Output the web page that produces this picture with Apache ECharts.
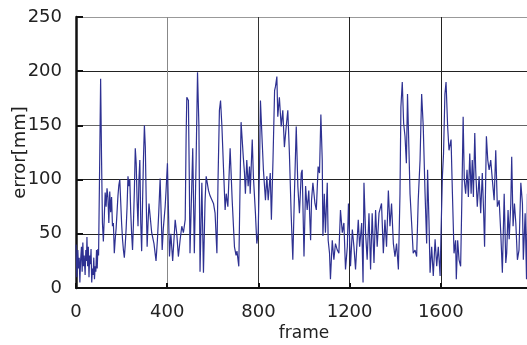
<!DOCTYPE html>
<html>
<head>
<meta charset="utf-8">
<script src="https://cdn.jsdelivr.net/npm/echarts@6/dist/echarts.min.js"></script>
<style>
  html, body { margin: 0; padding: 0; background: #fff; }
  #main { width: 527px; height: 345px; }
</style>
</head>
<body>
<div id="main"></div>
<script>
// frame index and tracking error (mm)
var frames = [
  0, 4, 8, 11, 14, 17, 20, 24, 27, 30, 33, 36, 40, 43, 46, 48, 51, 54, 57, 60,
  63, 66, 69, 72, 75, 78, 81, 84, 87, 90, 93, 96, 99, 103, 108, 112, 116, 120, 124, 128,
  132, 136, 140, 144, 148, 152, 156, 160, 164, 168, 172, 176, 180, 184, 188, 192, 196, 200, 204, 208,
  212, 216, 220, 224, 228, 232, 236, 240, 244, 248, 252, 256, 260, 264, 268, 272, 276, 280, 284, 288,
  292, 296, 300, 304, 308, 312, 316, 320, 325, 332, 342, 351, 357, 363, 369, 378, 383, 391, 395, 401,
  410, 416, 424, 435, 442, 449, 457, 464, 471, 479, 483, 486, 493, 497, 500, 506, 512, 519, 527, 533,
  539, 544, 552, 559, 566, 571, 581, 588, 596, 603, 610, 618, 623, 629, 634, 640, 647, 654, 659, 666,
  676, 685, 695, 702, 706, 714, 724, 729, 734, 739, 743, 749, 755, 761, 764, 773, 778, 787, 793, 799,
  805, 809, 817, 822, 831, 837, 843, 852, 857, 864, 871, 875, 881, 885, 892, 900, 907, 914, 922, 929,
  936, 944, 951, 958, 966, 973, 980, 988, 992, 1000, 1007, 1014, 1021, 1029, 1033, 1039, 1048, 1054, 1062, 1068,
  1074, 1080, 1083, 1089, 1094, 1102, 1106, 1112, 1116, 1124, 1131, 1138, 1146, 1153, 1160, 1168, 1175, 1182, 1190, 1195,
  1204, 1212, 1219, 1226, 1238, 1244, 1253, 1259, 1263, 1270, 1277, 1285, 1292, 1299, 1307, 1314, 1321, 1329, 1340, 1348,
  1355, 1362, 1370, 1377, 1384, 1392, 1399, 1406, 1414, 1421, 1425, 1431, 1437, 1443, 1449, 1454, 1460, 1465, 1472, 1479,
  1487, 1494, 1501, 1509, 1516, 1523, 1531, 1538, 1542, 1548, 1553, 1560, 1567, 1575, 1582, 1589, 1597, 1601, 1607, 1612,
  1618, 1623, 1630, 1636, 1645, 1651, 1658, 1665, 1668, 1674, 1680, 1687, 1692, 1698, 1703, 1709, 1715, 1721, 1727, 1733,
  1738, 1743, 1749, 1753, 1760, 1768, 1775, 1782, 1788, 1792, 1800, 1806, 1812, 1819, 1826, 1834, 1841, 1848, 1856, 1863,
  1870, 1878, 1885, 1889, 1895, 1900, 1907, 1911, 1917, 1923, 1929, 1936, 1943, 1951, 1958, 1962, 1970, 1976, 1980
];
var errors = [
  40, 10, 35, 18, 28, 5, 25, 38, 15, 42, 20, 30, 12, 35, 25, 47, 20, 38, 10, 30,
  22, 36, 5, 18, 12, 28, 8, 20, 15, 35, 18, 36, 30, 100, 193, 120, 60, 43, 65, 88,
  75, 92, 84, 60, 89, 70, 84, 57, 60, 32, 45, 55, 70, 85, 95, 100, 80, 60, 45, 35,
  28, 40, 55, 75, 103, 94, 100, 70, 50, 35, 60, 90, 129, 115, 80, 57, 100, 118, 60, 34,
  80, 120, 150, 130, 80, 38, 60, 78, 78, 51, 41, 25, 44, 70, 101, 35, 55, 75, 90, 115,
  29, 50, 25, 63, 50, 29, 45, 57, 51, 63, 140, 176, 173, 100, 32, 80, 129, 32, 120, 199,
  150, 15, 97, 14, 80, 103, 90, 85, 84, 78, 69, 32, 100, 164, 173, 149, 110, 72, 87, 75,
  129, 81, 38, 30, 34, 20, 153, 152, 120, 106, 87, 118, 94, 112, 87, 137, 103, 69, 41, 51,
  112, 173, 133, 109, 81, 103, 81, 106, 63, 118, 182, 186, 195, 158, 176, 149, 164, 130, 149, 164,
  124, 66, 26, 87, 149, 94, 69, 106, 109, 29, 94, 72, 90, 44, 81, 97, 78, 72, 112, 106,
  160, 118, 48, 87, 51, 97, 44, 32, 8, 44, 26, 41, 35, 32, 72, 51, 60, 17, 38, 78,
  20, 54, 38, 17, 63, 38, 60, 5, 97, 51, 26, 69, 17, 69, 23, 72, 38, 69, 78, 32,
  63, 38, 90, 57, 78, 41, 29, 41, 17, 87, 167, 190, 152, 140, 115, 179, 130, 87, 60, 32,
  35, 29, 81, 118, 179, 149, 87, 41, 109, 63, 14, 38, 11, 45, 20, 38, 11, 51, 103, 124,
  179, 190, 149, 127, 137, 87, 32, 44, 8, 44, 26, 20, 78, 158, 100, 87, 109, 84, 124, 87,
  118, 84, 143, 109, 75, 103, 69, 106, 69, 38, 140, 118, 109, 118, 100, 81, 127, 75, 81, 51,
  14, 87, 23, 32, 72, 45, 78, 121, 57, 78, 60, 26, 35, 97, 78, 26, 69, 8, 87
];
var xTicks = [0, 400, 800, 1200, 1600];
var yTicks = [0, 50, 100, 150, 200, 250];

var points = frames.map(function (f, i) { return [f, errors[i]]; });

var myChart = echarts.init(document.getElementById('main'));

var option = {
  animation: false,
  backgroundColor: '#fff',
  textStyle: { fontFamily: 'DejaVu Sans' },
  grid: {
    left: 76, right: -5, top: 17, bottom: 57,
    containLabel: false,
    outerBoundsMode: 'none'
  },
  xAxis: {
    type: 'value',
    min: 0,
    max: 2000,
    interval: 400,
    name: 'frame',
    nameLocation: 'middle',
    nameGap: 37,
    nameMoveOverlap: false,
    nameTextStyle: { fontSize: 17, color: '#222', fontFamily: 'DejaVu Sans' },
    axisLine: { show: true, onZero: false, lineStyle: { color: '#111', width: 2 } },
    axisTick: { show: true, inside: true, length: 5, lineStyle: { color: '#111', width: 2 } },
    axisLabel: {
      fontSize: 18, color: '#222', margin: 15, showMaxLabel: false,
      formatter: function (v) { return xTicks.indexOf(v) >= 0 ? String(v) : ''; }
    },
    splitLine: {
      show: true,
      lineStyle: { color: ['#222', '#888', '#333', '#222', '#222', '#222'], width: 1 }
    }
  },
  yAxis: {
    type: 'value',
    min: 0,
    max: 250,
    interval: 50,
    name: 'error[mm]',
    nameLocation: 'middle',
    nameGap: 47,
    nameMoveOverlap: false,
    nameTextStyle: { fontSize: 18, color: '#222', fontFamily: 'DejaVu Sans' },
    axisLine: { show: true, lineStyle: { color: '#111', width: 2.5 } },
    axisTick: { show: true, inside: true, length: 7, lineStyle: { color: '#111', width: 2 } },
    axisLabel: {
      fontSize: 18, color: '#222', margin: 14,
      formatter: function (v) { return yTicks.indexOf(v) >= 0 ? String(v) : ''; }
    },
    splitLine: {
      show: true,
      lineStyle: { color: ['#222', '#222', '#222', '#666', '#222', '#999'], width: 1 }
    }
  },
  series: [
    {
      type: 'line',
      data: points,
      showSymbol: false,
      symbol: 'none',
      clip: true,
      lineStyle: { color: '#2e3192', width: 1.2 }
    }
  ]
};
myChart.setOption(option);
</script>
</body>
</html>
